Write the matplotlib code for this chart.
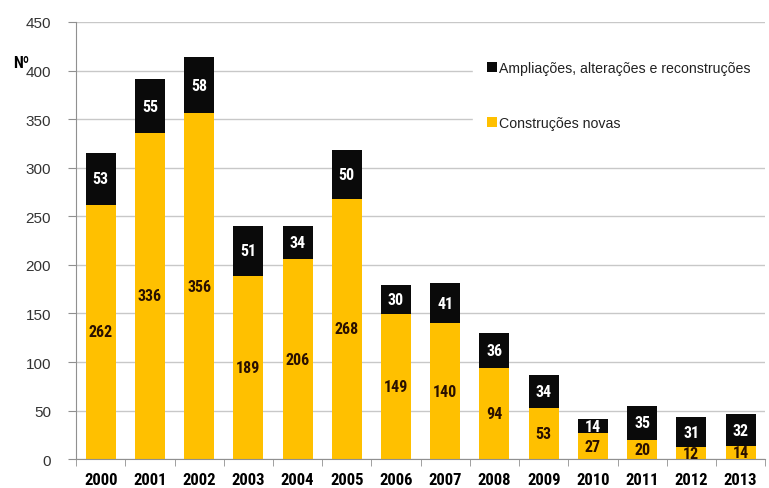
import matplotlib
matplotlib.use("Agg")
import matplotlib.pyplot as plt
from matplotlib import font_manager
import numpy as np

years = ["2000", "2001", "2002", "2003", "2004", "2005", "2006",
         "2007", "2008", "2009", "2010", "2011", "2012", "2013"]
novas = [262, 336, 356, 189, 206, 268, 149, 140, 94, 53, 27, 20, 12, 14]
ampliacoes = [53, 55, 58, 51, 34, 50, 30, 41, 36, 34, 14, 35, 31, 32]
y_ticks = [0, 50, 100, 150, 200, 250, 300, 350, 400, 450]

YELLOW = "#FFC000"
BLACK = "#0a0a0a"

installed = {f.name for f in font_manager.fontManager.ttflist}
NARROW = next((n for n in ["Liberation Sans Narrow", "Arial Narrow",
                           "Roboto Condensed", "DejaVu Sans Condensed"]
               if n in installed), "Liberation Sans")
REG = "Liberation Sans" if "Liberation Sans" in installed else "DejaVu Sans"
bold_size = 11.5 if NARROW != "Liberation Sans" else 10

fig = plt.figure(figsize=(7.69, 4.89), dpi=100)
ax = fig.add_axes([0.099, 0.059, 0.896, 0.894])

x = np.arange(len(years))
w = 0.61
b1 = ax.bar(x, novas, w, color=YELLOW, label="Construções novas", zorder=2)
b2 = ax.bar(x, ampliacoes, w, bottom=novas, color=BLACK,
            label="Ampliações, alterações e reconstruções", zorder=2)

for xi, n, a in zip(x, novas, ampliacoes):
    ax.text(xi, n / 2, str(n), ha="center", va="center", color="#2a1000",
            fontsize=bold_size, fontweight="bold", family=NARROW, zorder=3)
    ax.text(xi, n + a / 2, str(a), ha="center", va="center", color="white",
            fontsize=bold_size, fontweight="bold", family=NARROW, zorder=3)

ax.set_xlim(-0.5, len(years) - 0.5)
ax.set_ylim(0, 450)
ax.set_yticks(y_ticks)
ax.set_yticklabels([str(v) for v in y_ticks], family=REG)
ax.yaxis.grid(True, color="#c8c8c8", linewidth=1, zorder=0)
ax.set_axisbelow(True)

ax.set_xticks(x)
ax.set_xticklabels(years, fontsize=12, fontweight="bold", family=NARROW)
ax.set_xticks(np.arange(-0.5, len(years) - 0.5 + 0.01, 1), minor=True)
ax.tick_params(axis="x", which="major", length=0, pad=9)
ax.tick_params(axis="x", which="minor", length=5, color="#909090", direction="out")
ax.tick_params(axis="y", length=6, color="#909090", labelsize=11,
               labelcolor="#333333", pad=12)

for side in ["top", "right"]:
    ax.spines[side].set_visible(False)
for side in ["left", "bottom"]:
    ax.spines[side].set_color("#909090")

fig.text(0.027, 0.871, "Nº", fontsize=11.5, fontweight="bold", family=NARROW,
         ha="center", va="center")

leg = ax.legend(handles=[b2, b1], loc="upper right", bbox_to_anchor=(1.0, 0.943),
                frameon=True, facecolor="white", edgecolor="white",
                fancybox=False, framealpha=1, labelspacing=2.9,
                prop={"family": REG, "size": 10.2},
                handlelength=0.7, handleheight=0.7, handletextpad=0.2,
                borderpad=1.0, borderaxespad=0)
for t in leg.get_texts():
    t.set_color("#222222")

fig.savefig("out.png", dpi=100)
